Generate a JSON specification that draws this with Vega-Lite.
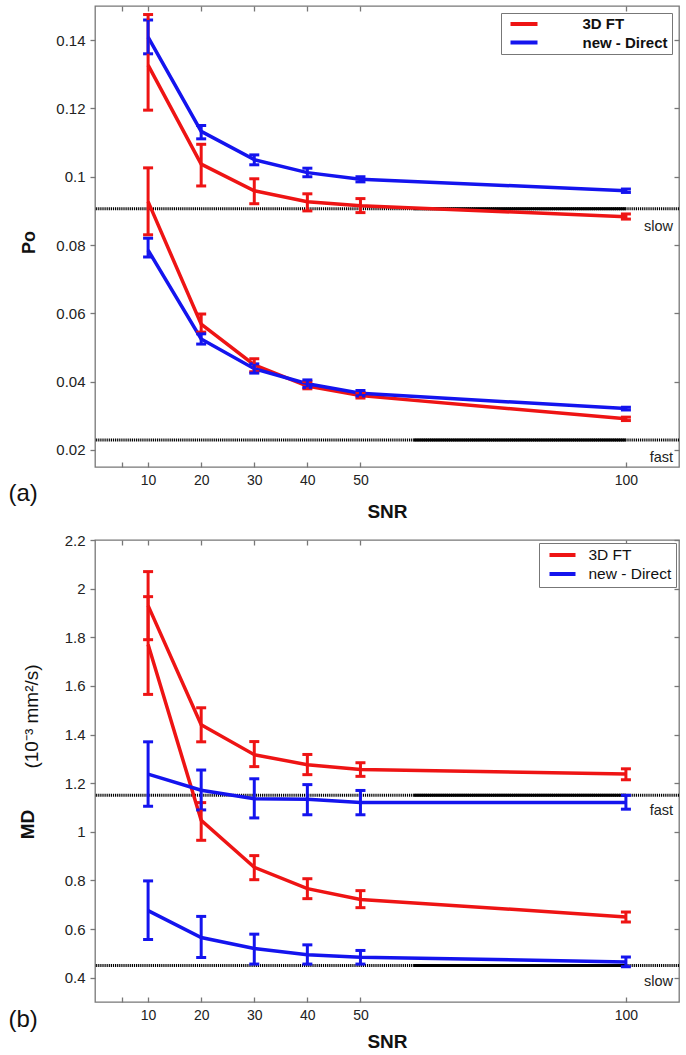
{
  "$schema": "https://vega.github.io/schema/vega-lite/v6.json",
  "padding": {"left": 7, "top": 4, "right": 8, "bottom": 4},
  "config": {
    "font": "Liberation Sans",
    "view": {"stroke": "#777", "strokeWidth": 1.3},
    "axis": {"domain": false, "grid": false, "labelFont": "Liberation Sans", "labelColor": "#222", "tickColor": "#777", "tickWidth": 1.3, "titleColor": "#111", "titleFont": "Liberation Sans"},
    "text": {"font": "Liberation Sans"}
  },
  "datasets": {
    "po": [
      {"method": "3D FT", "comp": "slow", "snr": 10, "v": 0.1327, "lo": 0.1195, "hi": 0.1475},
      {"method": "3D FT", "comp": "slow", "snr": 20, "v": 0.1037, "lo": 0.0973, "hi": 0.1095},
      {"method": "3D FT", "comp": "slow", "snr": 30, "v": 0.0959, "lo": 0.0921, "hi": 0.0994},
      {"method": "3D FT", "comp": "slow", "snr": 40, "v": 0.0927, "lo": 0.0900, "hi": 0.0950},
      {"method": "3D FT", "comp": "slow", "snr": 50, "v": 0.0915, "lo": 0.0895, "hi": 0.0936},
      {"method": "3D FT", "comp": "slow", "snr": 100, "v": 0.0883, "lo": 0.0876, "hi": 0.0891},
      {"method": "3D FT", "comp": "fast", "snr": 10, "v": 0.0927, "lo": 0.0830, "hi": 0.1026},
      {"method": "3D FT", "comp": "fast", "snr": 20, "v": 0.0568, "lo": 0.0545, "hi": 0.0598},
      {"method": "3D FT", "comp": "fast", "snr": 30, "v": 0.0449, "lo": 0.0429, "hi": 0.0467},
      {"method": "3D FT", "comp": "fast", "snr": 40, "v": 0.0387, "lo": 0.0379, "hi": 0.0400},
      {"method": "3D FT", "comp": "fast", "snr": 50, "v": 0.0359, "lo": 0.0352, "hi": 0.0368},
      {"method": "3D FT", "comp": "fast", "snr": 100, "v": 0.0291, "lo": 0.0286, "hi": 0.0296},
      {"method": "new - Direct", "comp": "slow", "snr": 10, "v": 0.1409, "lo": 0.1360, "hi": 0.1459},
      {"method": "new - Direct", "comp": "slow", "snr": 20, "v": 0.1133, "lo": 0.1111, "hi": 0.1150},
      {"method": "new - Direct", "comp": "slow", "snr": 30, "v": 0.1050, "lo": 0.1035, "hi": 0.1064},
      {"method": "new - Direct", "comp": "slow", "snr": 40, "v": 0.1012, "lo": 0.1000, "hi": 0.1025},
      {"method": "new - Direct", "comp": "slow", "snr": 50, "v": 0.0993, "lo": 0.0985, "hi": 0.1000},
      {"method": "new - Direct", "comp": "slow", "snr": 100, "v": 0.0959, "lo": 0.0954, "hi": 0.0964},
      {"method": "new - Direct", "comp": "fast", "snr": 10, "v": 0.0785, "lo": 0.0765, "hi": 0.0820},
      {"method": "new - Direct", "comp": "fast", "snr": 20, "v": 0.0525, "lo": 0.0510, "hi": 0.0540},
      {"method": "new - Direct", "comp": "fast", "snr": 30, "v": 0.0438, "lo": 0.0425, "hi": 0.0452},
      {"method": "new - Direct", "comp": "fast", "snr": 40, "v": 0.0394, "lo": 0.0383, "hi": 0.0405},
      {"method": "new - Direct", "comp": "fast", "snr": 50, "v": 0.0366, "lo": 0.0358, "hi": 0.0374},
      {"method": "new - Direct", "comp": "fast", "snr": 100, "v": 0.0321, "lo": 0.0317, "hi": 0.0325}
    ],
    "md": [
      {"method": "3D FT", "comp": "upper", "snr": 10, "v": 1.93, "lo": 1.79, "hi": 2.07},
      {"method": "3D FT", "comp": "upper", "snr": 20, "v": 1.44, "lo": 1.37, "hi": 1.51},
      {"method": "3D FT", "comp": "upper", "snr": 30, "v": 1.317, "lo": 1.268, "hi": 1.371},
      {"method": "3D FT", "comp": "upper", "snr": 40, "v": 1.276, "lo": 1.235, "hi": 1.318},
      {"method": "3D FT", "comp": "upper", "snr": 50, "v": 1.256, "lo": 1.228, "hi": 1.284},
      {"method": "3D FT", "comp": "upper", "snr": 100, "v": 1.238, "lo": 1.214, "hi": 1.259},
      {"method": "3D FT", "comp": "lower", "snr": 10, "v": 1.77, "lo": 1.565, "hi": 1.967},
      {"method": "3D FT", "comp": "lower", "snr": 20, "v": 1.047, "lo": 0.965, "hi": 1.12},
      {"method": "3D FT", "comp": "lower", "snr": 30, "v": 0.854, "lo": 0.803, "hi": 0.902},
      {"method": "3D FT", "comp": "lower", "snr": 40, "v": 0.766, "lo": 0.725, "hi": 0.807},
      {"method": "3D FT", "comp": "lower", "snr": 50, "v": 0.722, "lo": 0.688, "hi": 0.758},
      {"method": "3D FT", "comp": "lower", "snr": 100, "v": 0.650, "lo": 0.629, "hi": 0.670},
      {"method": "new - Direct", "comp": "upper", "snr": 10, "v": 1.237, "lo": 1.105, "hi": 1.37},
      {"method": "new - Direct", "comp": "upper", "snr": 20, "v": 1.171, "lo": 1.09, "hi": 1.254},
      {"method": "new - Direct", "comp": "upper", "snr": 30, "v": 1.136, "lo": 1.057, "hi": 1.218},
      {"method": "new - Direct", "comp": "upper", "snr": 40, "v": 1.134, "lo": 1.07, "hi": 1.194},
      {"method": "new - Direct", "comp": "upper", "snr": 50, "v": 1.12, "lo": 1.07, "hi": 1.17},
      {"method": "new - Direct", "comp": "upper", "snr": 100, "v": 1.12, "lo": 1.093, "hi": 1.15},
      {"method": "new - Direct", "comp": "lower", "snr": 10, "v": 0.676, "lo": 0.557, "hi": 0.798},
      {"method": "new - Direct", "comp": "lower", "snr": 20, "v": 0.565, "lo": 0.483, "hi": 0.652},
      {"method": "new - Direct", "comp": "lower", "snr": 30, "v": 0.52, "lo": 0.456, "hi": 0.579},
      {"method": "new - Direct", "comp": "lower", "snr": 40, "v": 0.494, "lo": 0.456, "hi": 0.535},
      {"method": "new - Direct", "comp": "lower", "snr": 50, "v": 0.484, "lo": 0.456, "hi": 0.512},
      {"method": "new - Direct", "comp": "lower", "snr": 100, "v": 0.465, "lo": 0.445, "hi": 0.485}
    ],
    "poRef": [
      {"y": 0.0906, "label": "slow"},
      {"y": 0.0229, "label": "fast"}
    ],
    "mdRef": [
      {"y": 1.15, "label": "fast"},
      {"y": 0.45, "label": "slow"}
    ]
  },
  "spacing": 73,
  "bounds": "flush",
  "resolve": {"scale": {"color": "independent"}},
  "vconcat": [
    {
      "width": 584,
      "height": 461,
      "resolve": {"axis": {"x": "independent", "y": "independent"}},
      "layer": [
        {
          "data": {"name": "poRef"},
          "mark": {"type": "rule", "strokeWidth": 3, "strokeDash": [1.2, 0.9], "color": "#000"},
          "encoding": {
            "y": {"field": "y", "type": "quantitative", "scale": {"domain": [0.015, 0.15], "nice": false, "zero": false}, "axis": null}
          }
        },
        {
          "data": {"name": "poRef"},
          "mark": {"type": "rule", "strokeWidth": 3, "color": "#000"},
          "encoding": {
            "x": {"datum": 60, "type": "quantitative", "scale": {"domain": [0, 110], "nice": false, "zero": false}, "axis": null},
            "x2": {"datum": 100},
            "y": {"field": "y", "type": "quantitative", "scale": {"domain": [0.015, 0.15], "nice": false, "zero": false}, "axis": null}
          }
        },
        {
          "data": {"name": "po"},
          "mark": {"type": "line", "strokeWidth": 3.5},
          "encoding": {
            "x": {"field": "snr", "type": "quantitative", "scale": {"domain": [0, 110], "nice": false, "zero": false},
              "axis": {"orient": "bottom", "values": [5, 10, 20, 30, 40, 50, 100], "labelExpr": "datum.value == 5 ? '' : datum.label", "ticks": false, "labelPadding": 6, "labelFontSize": 14, "title": "SNR", "titleFontSize": 19, "titleFontWeight": "bold", "titleY": 44, "titleBaseline": "middle"}},
            "y": {"field": "v", "type": "quantitative", "scale": {"domain": [0.015, 0.15], "nice": false, "zero": false},
              "axis": {"orient": "left", "values": [0.02, 0.04, 0.06, 0.08, 0.1, 0.12, 0.14], "format": ".2~f", "tickSize": 5, "labelPadding": 5, "labelFontSize": 15, "title": "Po", "titleFontSize": 18, "titleFontWeight": "bold", "titleX": -66, "titleY": 236, "titleAngle": 270, "titleAlign": "center", "titleBaseline": "middle"}},
            "color": {"field": "method", "type": "nominal", "scale": {"domain": ["3D FT", "new - Direct"], "range": ["#ee1414", "#1414ee"]},
              "legend": {"orient": "top-right", "offset": 7, "title": null, "labelFontSize": 15, "labelFontWeight": "bold", "labelColor": "#111", "symbolType": "stroke", "symbolSize": 729, "symbolStrokeWidth": 4, "symbolOffset": 4, "strokeColor": "#777", "fillColor": "white", "padding": 3.5, "clipHeight": 15, "rowPadding": 2.5, "labelOffset": 43}},
            "detail": {"field": "comp"},
            "order": {"field": "snr"}
          }
        },
        {
          "data": {"name": "po"},
          "mark": {"type": "errorbar", "thickness": 3, "ticks": {"size": 10, "thickness": 3, "opacity": 1}},
          "encoding": {
            "x": {"field": "snr", "type": "quantitative", "scale": {"domain": [0, 110], "nice": false, "zero": false}, "axis": null},
            "y": {"field": "lo", "type": "quantitative", "scale": {"domain": [0.015, 0.15], "nice": false, "zero": false}, "axis": null},
            "y2": {"field": "hi"},
            "color": {"field": "method", "type": "nominal", "scale": {"domain": ["3D FT", "new - Direct"], "range": ["#ee1414", "#1414ee"]}, "legend": null}
          }
        },
        {
          "data": {"name": "poRef"},
          "mark": {"type": "text", "align": "right", "baseline": "middle", "dx": -6, "dy": 18, "fontSize": 14.5, "color": "#222"},
          "encoding": {
            "x": {"datum": 110, "type": "quantitative", "scale": {"domain": [0, 110], "nice": false, "zero": false}, "axis": null},
            "y": {"field": "y", "type": "quantitative", "scale": {"domain": [0.015, 0.15], "nice": false, "zero": false}, "axis": null},
            "text": {"field": "label"}
          }
        },
        {
          "data": {"name": "po"},
          "mark": {"type": "point", "opacity": 0},
          "encoding": {
            "x": {"field": "snr", "type": "quantitative", "scale": {"domain": [0, 110], "nice": false, "zero": false},
              "axis": {"orient": "bottom", "offset": -5, "tickSize": 5, "labels": false, "values": [5, 10, 20, 30, 40, 50, 100], "title": "(a)", "titleFontSize": 24, "titleFontWeight": "normal", "titleX": -87, "titleY": 31, "titleAlign": "left", "titleBaseline": "middle", "titleAngle": 0}},
            "y": {"field": "v", "type": "quantitative", "scale": {"domain": [0.015, 0.15], "nice": false, "zero": false},
              "axis": {"orient": "right", "offset": -5, "tickSize": 5, "labels": false, "values": [0.02, 0.04, 0.06, 0.08, 0.1, 0.12, 0.14], "title": null}}
          }
        },
        {
          "data": {"name": "po"},
          "mark": {"type": "point", "opacity": 0},
          "encoding": {
            "x": {"field": "snr", "type": "quantitative", "scale": {"domain": [0, 110], "nice": false, "zero": false},
              "axis": {"orient": "top", "offset": -5, "tickSize": 5, "labels": false, "values": [5, 10, 20, 30, 40, 50, 100], "title": null}},
            "y": {"field": "v", "type": "quantitative", "scale": {"domain": [0.015, 0.15], "nice": false, "zero": false}, "axis": null}
          }
        }
      ]
    },
    {
      "width": 584,
      "height": 462,
      "resolve": {"axis": {"x": "independent", "y": "independent"}},
      "layer": [
        {
          "data": {"name": "mdRef"},
          "mark": {"type": "rule", "strokeWidth": 3, "strokeDash": [1.2, 0.9], "color": "#000"},
          "encoding": {
            "y": {"field": "y", "type": "quantitative", "scale": {"domain": [0.3, 2.2], "nice": false, "zero": false}, "axis": null}
          }
        },
        {
          "data": {"name": "mdRef"},
          "mark": {"type": "rule", "strokeWidth": 3, "color": "#000"},
          "encoding": {
            "x": {"datum": 60, "type": "quantitative", "scale": {"domain": [0, 110], "nice": false, "zero": false}, "axis": null},
            "x2": {"datum": 100},
            "y": {"field": "y", "type": "quantitative", "scale": {"domain": [0.3, 2.2], "nice": false, "zero": false}, "axis": null}
          }
        },
        {
          "data": {"name": "md"},
          "mark": {"type": "line", "strokeWidth": 3.5},
          "encoding": {
            "x": {"field": "snr", "type": "quantitative", "scale": {"domain": [0, 110], "nice": false, "zero": false},
              "axis": {"orient": "bottom", "values": [5, 10, 20, 30, 40, 50, 100], "labelExpr": "datum.value == 5 ? '' : datum.label", "ticks": false, "labelPadding": 6, "labelFontSize": 14, "title": "SNR", "titleFontSize": 19, "titleFontWeight": "bold", "titleY": 39, "titleBaseline": "middle"}},
            "y": {"field": "v", "type": "quantitative", "scale": {"domain": [0.3, 2.2], "nice": false, "zero": false},
              "axis": {"orient": "left", "values": [0.4, 0.6, 0.8, 1, 1.2, 1.4, 1.6, 1.8, 2, 2.2], "format": "~g", "tickSize": 5, "labelPadding": 5, "labelFontSize": 15, "title": "MD", "titleFontSize": 19, "titleFontWeight": "bold", "titleX": -68, "titleY": 284, "titleAngle": 270, "titleAlign": "center", "titleBaseline": "middle"}},
            "color": {"field": "method", "type": "nominal", "scale": {"domain": ["3D FT", "new - Direct"], "range": ["#ee1414", "#1414ee"]},
              "legend": {"orient": "top-right", "offset": 3, "title": null, "labelFontSize": 15.5, "labelFontWeight": "normal", "labelColor": "#111", "symbolType": "stroke", "symbolSize": 676, "symbolStrokeWidth": 4, "symbolOffset": 4, "strokeColor": "#777", "fillColor": "white", "padding": 4.5, "clipHeight": 15, "rowPadding": 3, "labelOffset": 11}},
            "detail": {"field": "comp"},
            "order": {"field": "snr"}
          }
        },
        {
          "data": {"name": "md"},
          "mark": {"type": "errorbar", "thickness": 3, "ticks": {"size": 10, "thickness": 3, "opacity": 1}},
          "encoding": {
            "x": {"field": "snr", "type": "quantitative", "scale": {"domain": [0, 110], "nice": false, "zero": false}, "axis": null},
            "y": {"field": "lo", "type": "quantitative", "scale": {"domain": [0.3, 2.2], "nice": false, "zero": false}, "axis": null},
            "y2": {"field": "hi"},
            "color": {"field": "method", "type": "nominal", "scale": {"domain": ["3D FT", "new - Direct"], "range": ["#ee1414", "#1414ee"]}, "legend": null}
          }
        },
        {
          "data": {"name": "mdRef"},
          "mark": {"type": "text", "align": "right", "baseline": "middle", "dx": -6, "dy": 16, "fontSize": 14.5, "color": "#222"},
          "encoding": {
            "x": {"datum": 110, "type": "quantitative", "scale": {"domain": [0, 110], "nice": false, "zero": false}, "axis": null},
            "y": {"field": "y", "type": "quantitative", "scale": {"domain": [0.3, 2.2], "nice": false, "zero": false}, "axis": null},
            "text": {"field": "label"}
          }
        },
        {
          "data": {"name": "md"},
          "mark": {"type": "point", "opacity": 0},
          "encoding": {
            "x": {"field": "snr", "type": "quantitative", "scale": {"domain": [0, 110], "nice": false, "zero": false},
              "axis": {"orient": "bottom", "offset": -5, "tickSize": 5, "labels": false, "values": [5, 10, 20, 30, 40, 50, 100], "title": "(b)", "titleFontSize": 24, "titleFontWeight": "normal", "titleX": -87, "titleY": 22, "titleAlign": "left", "titleBaseline": "middle", "titleAngle": 0}},
            "y": {"field": "v", "type": "quantitative", "scale": {"domain": [0.3, 2.2], "nice": false, "zero": false},
              "axis": {"orient": "right", "offset": -5, "tickSize": 5, "labels": false, "values": [0.4, 0.6, 0.8, 1, 1.2, 1.4, 1.6, 1.8, 2, 2.2], "title": null}}
          }
        },
        {
          "data": {"name": "md"},
          "mark": {"type": "point", "opacity": 0},
          "encoding": {
            "x": {"field": "snr", "type": "quantitative", "scale": {"domain": [0, 110], "nice": false, "zero": false},
              "axis": {"orient": "top", "offset": -5, "tickSize": 5, "labels": false, "values": [5, 10, 20, 30, 40, 50, 100], "title": null}},
            "y": {"field": "v", "type": "quantitative", "scale": {"domain": [0.3, 2.2], "nice": false, "zero": false},
              "axis": {"orient": "left", "ticks": false, "labels": false, "title": "(10⁻³ mm²/s)", "titleFontSize": 19, "titleFontWeight": "normal", "titleX": -64, "titleY": 176, "titleAngle": 270, "titleAlign": "center", "titleBaseline": "middle"}}
          }
        }
      ]
    }
  ]
}
